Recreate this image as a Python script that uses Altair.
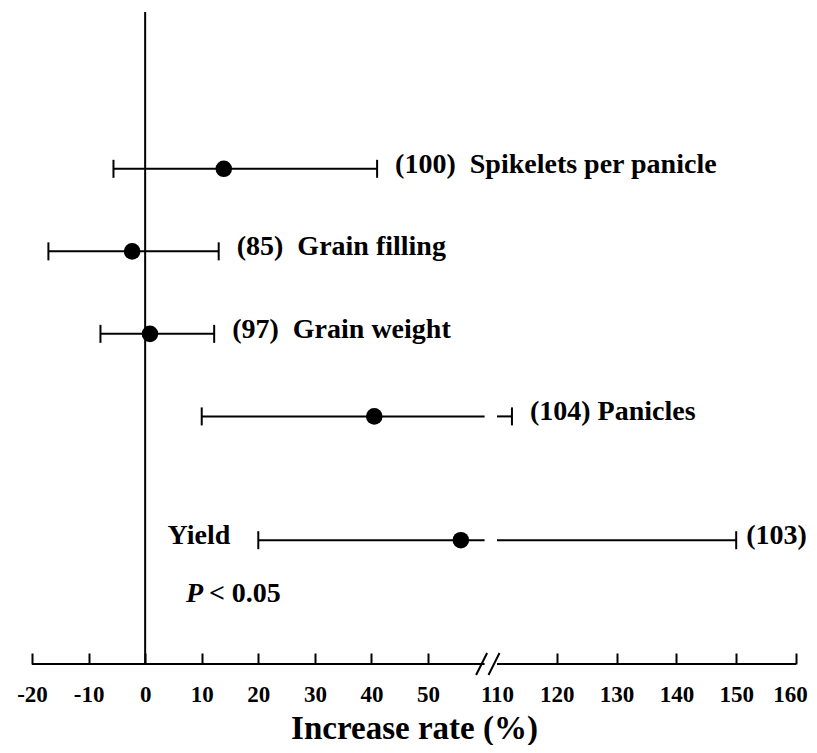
import altair as alt
import pandas as pd

# ---- data ----
traits = ["Spikelets per panicle", "Grain filling", "Grain weight", "Panicles", "Yield"]
n_obs = [100, 85, 97, 104, 103]
estimate = [13.9, -2.3, 0.85, 40.5, 55.8]
ci_low = [-5.6, -17.1, -7.9, 10.0, 20.0]
ci_high = [41.0, 13.0, 12.2, 112.5, 150.0]
row = [1, 2, 3, 4, 5.5]
NB = "\u00a0"
right_labels = ["(100)" + NB + " Spikelets per panicle", "(85)" + NB + " Grain filling",
                "(97)" + NB + " Grain weight", "(104) Panicles"]
yield_count = "(103)"
yield_name = "Yield"

x_ticks = [-20, -10, 0, 10, 20, 30, 40, 50, 110, 120, 130, 140, 150, 160]
x_min, x_max = -20, 160
break_lo, break_hi = 60, 110
p_text_x, p_text_row = 7.2, 6.2

W, H = 764, 652
FONT = "Liberation Serif"

# ---- tables ----
df = pd.DataFrame({"trait": traits, "n": n_obs, "est": estimate,
                   "lo": ci_low, "hi": ci_high, "row": row})
rlab_df = df.iloc[:4].assign(lab=right_labels)
yld = df.iloc[4:].assign(rlab=yield_count, llab=yield_name)

seg_rows = []
for t, lo, hi, r in zip(traits, ci_low, ci_high, row):
    if hi > break_hi:
        seg_rows.append({"trait": t, "a": lo, "b": break_lo, "row": r})
        seg_rows.append({"trait": t, "a": break_hi, "b": hi, "row": r})
    else:
        seg_rows.append({"trait": t, "a": lo, "b": hi, "row": r})
segs = pd.DataFrame(seg_rows)

caps = pd.DataFrame({"v": ci_low + ci_high, "row": row + row})
axis_line = pd.DataFrame({"a": [x_min, break_hi], "b": [break_lo, x_max]})
slashes = pd.DataFrame({"v": [break_lo, break_hi]})
zero = pd.DataFrame({"v": [0]})
ptext = pd.DataFrame({"v": [p_text_x], "row": [p_text_row]})

xscale = alt.Scale(domain=[x_min, break_lo, break_hi, x_max],
                   range=[0, 452.6, 465, W], nice=False, zero=False)
yscale = alt.Scale(domain=[-0.9, 7], reverse=True, nice=False, zero=False)

xaxis = alt.Axis(values=x_ticks, domain=False, grid=False, tickSize=11, offset=-11,
                 tickWidth=2, tickColor="black",
                 tickOpacity=alt.condition("datum.value == 110", alt.value(0), alt.value(1)),
                 labelExpr="'' + datum.value",
                 labelOffset=alt.condition("datum.value == 160", alt.value(-6), alt.value(0)),
                 labelFont=FONT, labelFontSize=23, labelFontWeight="bold",
                 labelColor="black", labelPadding=19, labelFlush=False, labelOverlap=False,
                 title="Increase rate (%)", titleFont=FONT, titleFontSize=33,
                 titleFontWeight="bold", titleColor="black", titlePadding=6)


def X(field):
    return alt.X(field, type="quantitative", scale=xscale, axis=xaxis)


def Y(field):
    return alt.Y(field, type="quantitative", scale=yscale, axis=None)


zero_line = alt.Chart(zero).mark_rule(color="black", strokeWidth=2).encode(x=X("v"))

axis_rule = alt.Chart(axis_line).mark_rule(color="black", strokeWidth=2).encode(
    x=X("a"), x2="b:Q", y=alt.value(H))

slash = alt.Chart(slashes).mark_point(shape="M-0.5,1L0.5,-1", filled=False, size=484,
                                      strokeWidth=2, color="black", opacity=1,
                                      xOffset=-3).encode(x=X("v"), y=alt.value(H))

bars = alt.Chart(segs).mark_rule(color="black", strokeWidth=2).encode(
    x=X("a"), x2="b:Q", y=Y("row"))

cap_marks = alt.Chart(caps).mark_tick(color="black", orient="vertical", size=18,
                                      thickness=2, opacity=1).encode(x=X("v"), y=Y("row"))

points = alt.Chart(df).mark_circle(color="black", size=275, opacity=1).encode(
    x=X("est"), y=Y("row"))

txt = dict(font=FONT, fontSize=28, fontWeight="bold", color="black",
           baseline="alphabetic", dy=4)

rtext = alt.Chart(rlab_df).mark_text(align="left", dx=18, **txt).encode(
    x=X("hi"), y=Y("row"), text="lab:N")

ytext_r = alt.Chart(yld).mark_text(align="left", dx=10, **txt).encode(
    x=X("hi"), y=Y("row"), text="rlab:N")

ytext_l = alt.Chart(yld).mark_text(align="right", dx=-28, **txt).encode(
    x=X("lo"), y=Y("row"), text="llab:N")

p_italic = alt.Chart(ptext).mark_text(text="P", fontStyle="italic", align="left",
                                      **txt).encode(x=X("v"), y=Y("row"))

p_rest = alt.Chart(ptext).mark_text(text="< 0.05", align="left", dx=23,
                                    **txt).encode(x=X("v"), y=Y("row"))

chart = alt.layer(zero_line, axis_rule, slash, bars, cap_marks, points,
                  rtext, ytext_r, ytext_l, p_italic, p_rest).properties(
    width=W, height=H, autosize="none", background="white",
    padding={"left": 24, "top": 4, "right": 13, "bottom": 81},
).configure_view(strokeWidth=0)

chart.save("out.html", embed_options={"renderer": "svg", "actions": False})
